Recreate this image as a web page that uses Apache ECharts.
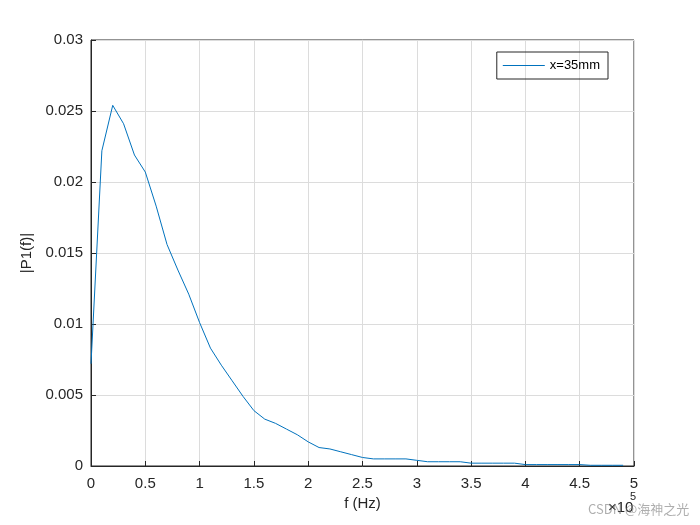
<!DOCTYPE html>
<html><head><meta charset="utf-8">
<script src="https://cdn.jsdelivr.net/npm/echarts@6/dist/echarts.min.js"></script>
<style>html,body{margin:0;padding:0;background:#fff}#c{width:700px;height:525px}</style>
</head><body><div id="c"></div>
<script>
const freqs = [0,1e4,2e4,3e4,4e4,5e4,6e4,7e4,8e4,9e4,10e4,11e4,12e4,13e4,14e4,15e4,16e4,17e4,18e4,19e4,20e4,21e4,22e4,23e4,24e4,25e4,26e4,27e4,28e4,29e4,30e4,31e4,32e4,33e4,34e4,35e4,36e4,37e4,38e4,39e4,40e4,41e4,42e4,43e4,44e4,45e4,46e4,47e4,48e4,49e4];
const p1 = [0.0072,0.0222,0.0254,0.0241,0.0219,0.0207,0.0183,0.0156,0.0138,0.0121,0.0101,0.0083,0.0071,0.0060,0.0049,0.0039,0.0033,0.0030,0.0026,0.0022,0.0017,0.0013,0.0012,0.0010,0.0008,0.0006,0.0005,0.0005,0.0005,0.0005,0.0004,0.0003,0.0003,0.0003,0.0003,0.0002,0.0002,0.0002,0.0002,0.0002,0.0001,0.0001,0.0001,0.0001,0.0001,0.0001,0.00005,0.00005,0.00005,0.00005];
const xTickLabels = ['0','0.5','1','1.5','2','2.5','3','3.5','4','4.5','5'];
const seriesName = 'x=35mm';
const font = 'Liberation Sans, Arial, sans-serif';
const chart = echarts.init(document.getElementById('c'));
const ax = {lineStyle:{color:'#262626'}};
chart.setOption({
  animation:false,
  grid:{left:91,right:66,top:40,bottom:59,show:true,borderColor:'#262626',borderWidth:1},
  legend:{right:92,top:52,orient:'vertical',itemWidth:42,itemHeight:1,icon:'rect',
    borderColor:'#262626',borderWidth:1,padding:[7,8,7,6],itemGap:0,
    textStyle:{fontFamily:font,fontSize:13,color:'#000'},data:[seriesName]},
  xAxis:{type:'value',min:0,max:5e5,interval:5e4,name:'f (Hz)',nameLocation:'middle',nameGap:28,
    nameTextStyle:{fontFamily:font,fontSize:15,color:'#262626'},
    axisLine:ax,axisTick:{inside:true,lineStyle:{color:'#262626'}},
    axisLabel:{fontFamily:font,fontSize:15,color:'#262626',margin:10,formatter:v=>xTickLabels[Math.round(v/5e4)]},
    splitLine:{lineStyle:{color:'#dcdcdc'}}},
  yAxis:{type:'value',min:0,max:0.03,interval:0.005,name:'|P1(f)|',nameLocation:'middle',nameGap:50,
    nameTextStyle:{fontFamily:font,fontSize:15,color:'#262626'},
    axisLine:ax,axisTick:{inside:true,lineStyle:{color:'#262626'}},
    axisLabel:{fontFamily:font,fontSize:15,color:'#262626',formatter:v=>v===0?'0':String(+v.toFixed(3))},
    splitLine:{lineStyle:{color:'#dcdcdc'}}},
  series:[{name:seriesName,type:'line',data:freqs.map((f,i)=>[f,p1[i]]),showSymbol:false,
    lineStyle:{color:'#0072bd',width:1},itemStyle:{color:'#0072bd'}}],
  graphic:[
    {type:'text',left:608,top:500,style:{text:'×10',font:'15px '+font,fill:'#262626'}},
    {type:'text',left:630,top:491,style:{text:'5',font:'11px '+font,fill:'#262626'}},
    {type:'text',left:588,top:503,style:{text:'CSDN @海神之光',font:'13px "Noto Sans CJK SC", sans-serif',fill:'rgba(120,120,120,0.6)'}}
  ]
});
</script></body></html>
